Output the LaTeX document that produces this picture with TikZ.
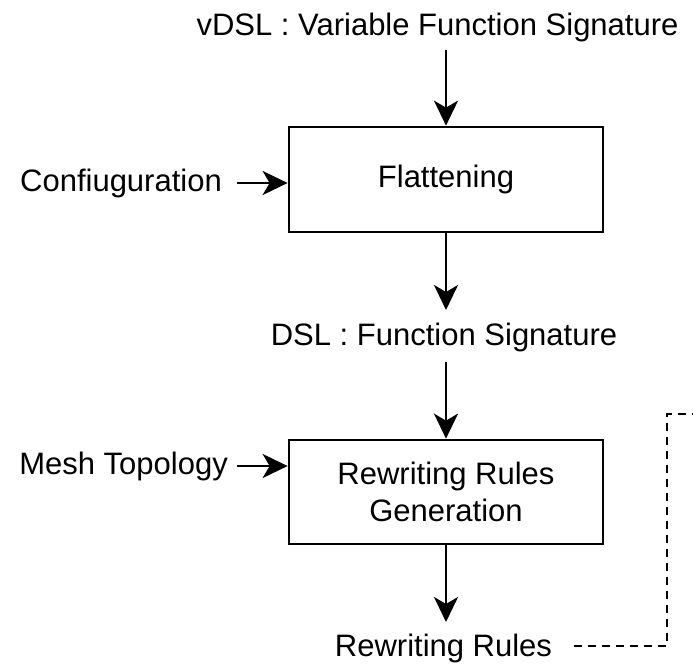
\documentclass[tikz,border=0pt]{standalone}
\usepackage{fontspec}
\setmainfont{Liberation Sans}
\usetikzlibrary{arrows.meta}
\begin{document}
\begin{tikzpicture}[x=1pt,y=-1pt,
  txt/.style={font=\fontsize{31}{37}\selectfont, inner sep=0pt},
  procbox/.style={draw, line width=2.7pt, minimum width=314pt, minimum height=105pt, align=center, font=\fontsize{31}{37}\selectfont, inner sep=0pt},
  flow/.style={line width=2.8pt, -{Stealth[length=25pt,width=24pt,inset=7pt]}},
  fb/.style={line width=2.2pt, dash pattern=on 8pt off 6pt}]
\useasboundingbox (0,0) rectangle (693,665);
\node[txt] (vdsl) at (437.5,27) {vDSL : Variable Function Signature};
\node[procbox] (flat) at (446,179.5) {Flattening};
\node[txt, anchor=east] (conf) at (222,183) {Confiuguration};
\node[txt] (dsl) at (444,337) {DSL : Function Signature};
\node[procbox, minimum height=104pt] (rw) at (446,492) {Rewriting Rules\\Generation};
\node[txt, anchor=east] (mesh) at (228,466) {Mesh Topology};
\node[txt] (rr) at (443.5,648) {Rewriting Rules};
\coordinate (c1) at (667,646);
\coordinate (c2) at (667,414);
\coordinate (c3) at (693,414);
\draw[flow] (446,50) -- (flat.north);
\draw[flow] (conf.east) ++(15,0) -- (flat.west |- conf.east);
\draw[flow] (flat.south) -- (446,310);
\draw[flow] (446,362) -- (rw.north);
\draw[flow] (mesh.east) ++(9,0) -- (rw.west |- mesh.east);
\draw[flow] (rw.south) -- (446,622);
\draw[fb] (rr.east) ++(22,-2) -- (c1) -- (c2) -- (c3);
\end{tikzpicture}
\end{document}
